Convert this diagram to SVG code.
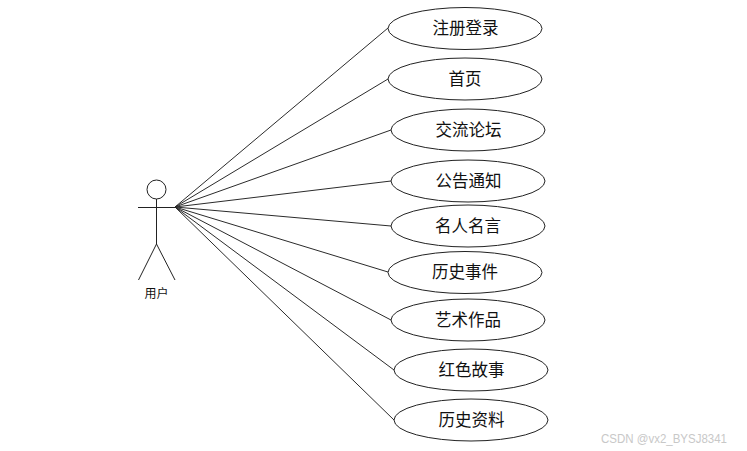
<svg xmlns="http://www.w3.org/2000/svg" width="747" height="451" viewBox="0 0 747 451">
<style>
.l{stroke:#2b2b2b;stroke-width:1;fill:none}
.a{stroke:#222;stroke-width:1;fill:none}
.e{stroke:#222;stroke-width:1;fill:#fff}
.t{font-family:"Noto Sans CJK SC","Liberation Sans",sans-serif;font-size:16.500px;fill:#111;text-anchor:middle}
.s{font-size:12px}
.w{font-family:"Liberation Sans",sans-serif;font-size:12px;fill:#c8c8c8}
</style>
<rect width="747" height="451" fill="#fff"/>
<g id="connectors">
<path class="l" d="M175 207L388 28M175 207L388 79M175 207L391 130M175 207L391 181M175 207L391 226M175 207L388 272M175 207L391 320M175 207L394 370M175 207L394 420"/>
</g>
<g id="actor">
<circle class="a" cx="156.500" cy="189.500" r="9.500"/>
<path class="a" d="M138 207.500H176M156.500 199V244M156.500 244L138.500 280M156.500 244L175 280"/>
<text class="t s" x="156.500" y="298">用户</text>
</g>
<g id="uc1"><ellipse class="e" cx="465" cy="28.500" rx="77" ry="21"/><text class="t" x="465.500" y="34">注册登录</text></g>
<g id="uc2"><ellipse class="e" cx="465" cy="79" rx="77" ry="21"/><text class="t" x="465" y="85">首页</text></g>
<g id="uc3"><ellipse class="e" cx="468" cy="130" rx="77" ry="21"/><text class="t" x="468.500" y="136">交流论坛</text></g>
<g id="uc4"><ellipse class="e" cx="468" cy="181" rx="77" ry="21"/><text class="t" x="468.500" y="187">公告通知</text></g>
<g id="uc5"><ellipse class="e" cx="468" cy="226" rx="77" ry="21"/><text class="t" x="468" y="232">名人名言</text></g>
<g id="uc6"><ellipse class="e" cx="465" cy="272.500" rx="77" ry="21"/><text class="t" x="465" y="278">历史事件</text></g>
<g id="uc7"><ellipse class="e" cx="468" cy="320" rx="77" ry="21"/><text class="t" x="468" y="326">艺术作品</text></g>
<g id="uc8"><ellipse class="e" cx="471" cy="370" rx="77" ry="21"/><text class="t" x="471.500" y="376">红色故事</text></g>
<g id="uc9"><ellipse class="e" cx="471" cy="420" rx="77" ry="21"/><text class="t" x="471.500" y="426">历史资料</text></g>
<text class="w" x="601" y="443" textLength="126" lengthAdjust="spacingAndGlyphs">CSDN @vx2_BYSJ8341</text>
</svg>
